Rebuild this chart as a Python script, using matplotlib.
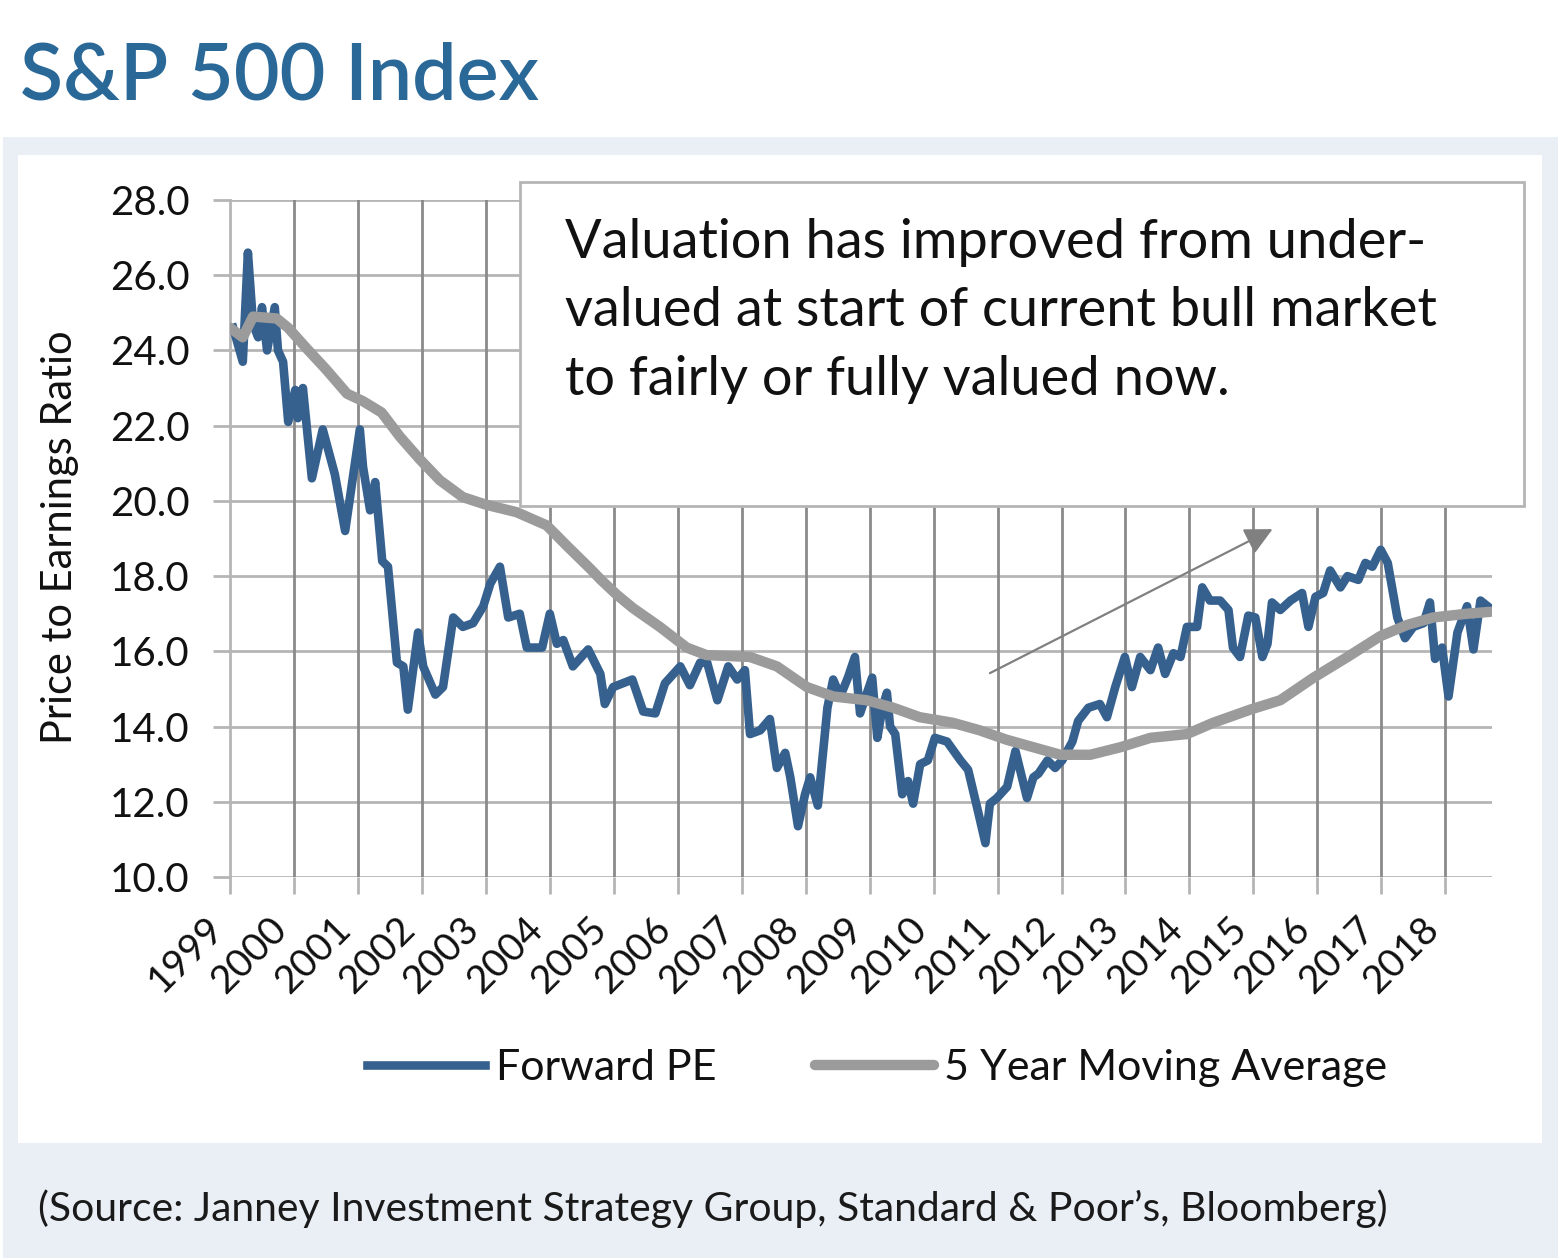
"""
S&P 500 forward PE vs 5 year moving average, redrawn from a chart image
"""
import matplotlib
matplotlib.use('Agg')
import matplotlib.pyplot as plt
import matplotlib.transforms as mtransforms
from matplotlib.patches import Rectangle

# Forward PE
pe_year = [1999.05, 1999.20, 1999.28, 1999.36, 1999.44, 1999.50, 1999.58, 1999.70, 1999.75, 1999.83,
           1999.91, 2000.02, 2000.06, 2000.14, 2000.28, 2000.45, 2000.64, 2000.80, 2001.03, 2001.08,
           2001.19, 2001.27, 2001.38, 2001.47, 2001.61, 2001.71, 2001.78, 2001.94, 2002.02, 2002.21,
           2002.33, 2002.49, 2002.64, 2002.80, 2002.96, 2003.07, 2003.22, 2003.35, 2003.53, 2003.64,
           2003.88, 2004.00, 2004.11, 2004.21, 2004.36, 2004.60, 2004.79, 2004.86, 2004.99, 2005.29,
           2005.46, 2005.65, 2005.80, 2006.04, 2006.19, 2006.35, 2006.46, 2006.62, 2006.79, 2006.93,
           2007.05, 2007.13, 2007.29, 2007.44, 2007.55, 2007.68, 2007.76, 2007.88, 2007.99, 2008.07,
           2008.19, 2008.34, 2008.43, 2008.54, 2008.66, 2008.77, 2008.85, 2008.96, 2009.04, 2009.12,
           2009.20, 2009.27, 2009.32, 2009.40, 2009.51, 2009.60, 2009.68, 2009.79, 2009.91, 2010.02,
           2010.21, 2010.42, 2010.54, 2010.68, 2010.81, 2010.88, 2010.99, 2011.15, 2011.28, 2011.46,
           2011.56, 2011.64, 2011.78, 2011.90, 2012.01, 2012.17, 2012.26, 2012.42, 2012.60, 2012.71,
           2012.84, 2012.99, 2013.10, 2013.23, 2013.39, 2013.51, 2013.62, 2013.75, 2013.86, 2013.96,
           2014.12, 2014.20, 2014.32, 2014.48, 2014.61, 2014.68, 2014.79, 2014.92, 2015.03, 2015.14,
           2015.22, 2015.29, 2015.42, 2015.58, 2015.76, 2015.86, 2015.97, 2016.09, 2016.20, 2016.36,
           2016.47, 2016.64, 2016.75, 2016.86, 2016.99, 2017.10, 2017.25, 2017.37, 2017.50, 2017.66,
           2017.76, 2017.84, 2017.95, 2018.05, 2018.19, 2018.34, 2018.44, 2018.55, 2018.66]
pe_val = [24.6, 23.7, 26.6, 24.7, 24.35, 25.15, 24.0, 25.15, 24.0, 23.7,
          22.1, 22.95, 22.2, 23.0, 20.6, 21.9, 20.7, 19.2, 21.9, 20.9,
          19.75, 20.5, 18.4, 18.25, 15.7, 15.6, 14.45, 16.5, 15.6, 14.85,
          15.05, 16.9, 16.65, 16.75, 17.2, 17.8, 18.25, 16.9, 17.0, 16.1,
          16.1, 17.0, 16.2, 16.3, 15.6, 16.05, 15.4, 14.6, 15.05, 15.25,
          14.4, 14.35, 15.15, 15.6, 15.1, 15.7, 15.7, 14.7, 15.6, 15.25,
          15.5, 13.8, 13.9, 14.2, 12.9, 13.3, 12.65, 11.35, 12.2, 12.65,
          11.9, 14.5, 15.25, 14.8, 15.3, 15.85, 14.35, 14.9, 15.3, 13.7,
          14.5, 14.9, 14.0, 13.8, 12.2, 12.55, 11.95, 13.0, 13.1, 13.7,
          13.6, 13.1, 12.85, 11.85, 10.9, 11.95, 12.1, 12.4, 13.35, 12.1,
          12.65, 12.75, 13.1, 12.9, 13.1, 13.6, 14.15, 14.5, 14.6, 14.25,
          15.05, 15.85, 15.05, 15.85, 15.5, 16.1, 15.4, 15.95, 15.85, 16.65,
          16.65, 17.7, 17.35, 17.35, 17.1, 16.1, 15.85, 16.95, 16.9, 15.85,
          16.2, 17.3, 17.1, 17.35, 17.55, 16.65, 17.45, 17.55, 18.15, 17.7,
          18.0, 17.9, 18.35, 18.25, 18.7, 18.35, 16.9, 16.35, 16.65, 16.75,
          17.3, 15.8, 16.1, 14.8, 16.5, 17.2, 16.05, 17.35, 17.2]

# 5 year moving average
ma_year = [1999.00, 1999.20, 1999.36, 1999.73, 1999.91, 2000.20, 2000.50, 2000.83, 2001.08, 2001.37,
           2001.66, 2001.97, 2002.28, 2002.64, 2003.00, 2003.48, 2003.95, 2004.27, 2004.63, 2004.80,
           2005.05, 2005.30, 2005.72, 2006.14, 2006.45, 2007.13, 2007.55, 2008.02, 2008.43, 2008.95,
           2009.37, 2009.78, 2010.30, 2010.72, 2011.14, 2011.56, 2011.98, 2012.45, 2012.92, 2013.39,
           2013.96, 2014.37, 2014.95, 2015.42, 2015.94, 2016.47, 2016.98, 2017.40, 2017.81, 2018.34,
           2018.70]
ma_val = [24.6, 24.35, 24.9, 24.85, 24.6, 24.05, 23.5, 22.85, 22.65, 22.35,
          21.7, 21.1, 20.55, 20.1, 19.9, 19.7, 19.35, 18.8, 18.2, 17.9,
          17.5, 17.15, 16.65, 16.1, 15.9, 15.85, 15.6, 15.05, 14.8, 14.7,
          14.5, 14.25, 14.1, 13.9, 13.65, 13.45, 13.25, 13.25, 13.45, 13.7,
          13.8, 14.1, 14.45, 14.7, 15.3, 15.85, 16.4, 16.7, 16.9, 17.0,
          17.05]

years = list(range(1999, 2019))
yticks = [10, 12, 14, 16, 18, 20, 22, 24, 26, 28]

title = 'S&P 500 Index'
note_lines = ['Valuation has improved from under-',
              'valued at start of current bull market',
              'to fairly or fully valued now.']
source = '(Source: Janney Investment Strategy Group, Standard & Poor\u2019s, Bloomberg)'

blue = '#36618f'
grey = '#9b9b9b'
W, H = 1558, 1258

plt.rcParams['font.family'] = ['Lato', 'DejaVu Sans']

fig = plt.figure(figsize=(W / 100, H / 100), dpi=100)
fig.patch.set_facecolor('white')
# light panel + white card
fig.patches.append(Rectangle((3 / W, 0), 1 - 3 / W, (H - 137) / H, transform=fig.transFigure,
                             facecolor='#eaeff6', edgecolor='none', zorder=-2))
fig.patches.append(Rectangle((18 / W, 1 - 1143 / H), (1542 - 18) / W, (1143 - 155) / H,
                             transform=fig.transFigure, facecolor='white', edgecolor='none', zorder=-1))

ax = fig.add_axes([230 / W, 1 - 877 / H, 1262 / W, 677 / H])
ax.set_facecolor('none')

ax.plot(pe_year, pe_val, color=blue, lw=6.2, solid_joinstyle='round', zorder=3, label='Forward PE')
ax.plot(ma_year, ma_val, color=grey, lw=7.5, solid_joinstyle='round', solid_capstyle='round',
        zorder=4, label='5 Year Moving Average')

ax.set_xlim(1999, 2018.73)
ax.set_ylim(10, 28)
ax.set_xticks(years)
ax.set_xticklabels([str(y) for y in years], rotation=45, ha='right', fontsize=28)
shift = mtransforms.ScaledTranslation(7 / 100, -6 / 100, fig.dpi_scale_trans)
for lab in ax.get_xticklabels():
    lab.set_transform(lab.get_transform() + shift)
ax.set_yticks(yticks)
ax.set_yticklabels(['%.1f' % v for v in yticks], fontsize=29)

# grid: light horizontals, darker verticals
for v in yticks:
    ax.axhline(v, color='#b5b5b5', lw=2, zorder=1)
for y in years[1:]:
    ax.axvline(y, color='#8a8a8a', lw=2, zorder=1)
for s in ['top', 'right', 'bottom']:
    ax.spines[s].set_visible(False)
ax.spines['left'].set_color('#b5b5b5')
ax.spines['left'].set_linewidth(2)
ax.tick_params(axis='both', length=12, width=2, color='#b5b5b5', labelcolor='#111111')
ax.tick_params(axis='y', pad=17)
ax.tick_params(axis='x', pad=12)

fig.text(60 / W, 1 - 537 / H, 'Price to Earnings Ratio', rotation=90, ha='center', va='center',
         fontsize=30, color='#111111')

# callout box
box = Rectangle(((520 - 230) / 1262, (877 - 506) / 677), (1524 - 520) / 1262, (506 - 182) / 677,
                transform=ax.transAxes, facecolor='white', edgecolor='#b5b5b5', lw=2,
                clip_on=False, zorder=2)
ax.add_patch(box)
for i, line in enumerate(note_lines):
    fig.text(565 / W, 1 - (258 + 68.5 * i) / H, line, ha='left', va='baseline',
             fontsize=39, color='#111111', zorder=5)

ax.annotate('', xy=(2015.3, 19.25), xytext=(2010.88, 15.42),
            arrowprops=dict(arrowstyle='-|>', mutation_scale=42, color='#808080', lw=1.6,
                            shrinkA=0, shrinkB=0), zorder=5)

leg = ax.legend(loc='center', bbox_to_anchor=(877 / W, 1 - 1068 / H), bbox_transform=fig.transFigure,
                ncol=2, frameon=False, fontsize=31, handlelength=2.75, handletextpad=0.25,
                columnspacing=2.3)
for t in leg.get_texts():
    t.set_color('#111111')

fig.text(20 / W, 1 - 100 / H, title, ha='left', va='baseline', fontsize=57, fontweight='semibold',
         color='#2a6898')
fig.text(38 / W, 1 - 1221 / H, source, ha='left', va='baseline', fontsize=29.4, fontweight='normal',
         color='#1a1a1a')

fig.savefig('out.png', dpi=100)
